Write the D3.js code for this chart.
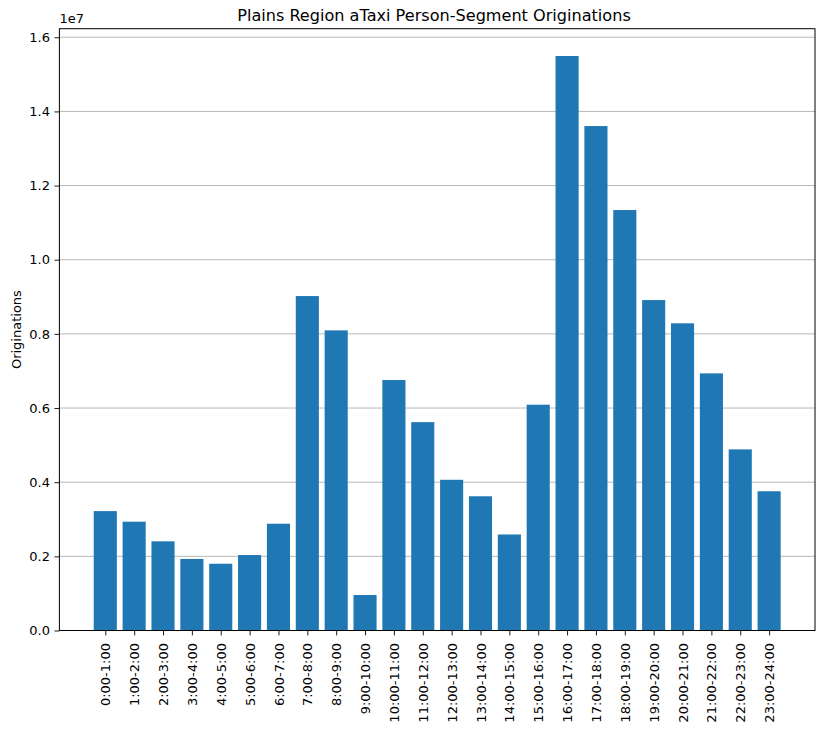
<!DOCTYPE html>
<html>
<head>
<meta charset="utf-8">
<script src="https://cdn.jsdelivr.net/npm/d3@7"></script>
<style>
  html, body { margin: 0; padding: 0; background: #fff; }
  svg { display: block; font-family: "DejaVu Sans", sans-serif; }
</style>
</head>
<body>
<svg id="chart" width="816" height="729"></svg>
<script>
// Hourly time slots
const hours = [
  "0:00-1:00", "1:00-2:00", "2:00-3:00", "3:00-4:00", "4:00-5:00", "5:00-6:00",
  "6:00-7:00", "7:00-8:00", "8:00-9:00", "9:00-10:00", "10:00-11:00", "11:00-12:00",
  "12:00-13:00", "13:00-14:00", "14:00-15:00", "15:00-16:00", "16:00-17:00", "17:00-18:00",
  "18:00-19:00", "19:00-20:00", "20:00-21:00", "21:00-22:00", "22:00-23:00", "23:00-24:00"
];

// Person-segment originations per hour
const originations = [
  3220000, 2935000, 2405000, 1930000, 1800000, 2035000,
  2880000, 9020000, 8095000, 957000, 6755000, 5620000,
  4065000, 3620000, 2590000, 6090000, 15495000, 13605000,
  11340000, 8912000, 8285000, 6935000, 4885000, 3755000
];

// Y tick values (in units of 1e7)
const yTicks = [0.0, 0.2, 0.4, 0.6, 0.8, 1.0, 1.2, 1.4, 1.6];

const svg = d3.select("#chart");
const plotLeft = 59.4, plotRight = 815, plotTop = 28.7, plotBottom = 630.5;

// Linear x scale over bar positions with 5% padding on each side
const n = hours.length;
const barW = 0.8;
const lo = -barW / 2, hi = (n - 1) + barW / 2;
const pad = (hi - lo) * 0.05;
const x = d3.scaleLinear().domain([lo - pad, hi + pad]).range([plotLeft, plotRight]);

const y = d3.scaleLinear().domain([0, 1.6231e7]).range([plotBottom, plotTop]);

// Horizontal grid
svg.append("g")
  .selectAll("line")
  .data(yTicks)
  .join("line")
  .attr("x1", plotLeft).attr("x2", plotRight)
  .attr("y1", d => y(d * 1e7)).attr("y2", d => y(d * 1e7))
  .attr("stroke", "#b0b0b0")
  .attr("stroke-width", 0.9);

// Bars
svg.append("g")
  .selectAll("rect")
  .data(originations)
  .join("rect")
  .attr("x", (d, i) => x(i - barW / 2))
  .attr("width", (d, i) => x(i + barW / 2) - x(i - barW / 2))
  .attr("y", d => y(d))
  .attr("height", d => plotBottom - y(d))
  .attr("fill", "#1f77b4");

// Y axis
const yAxis = d3.axisLeft(y)
  .tickValues(yTicks.map(t => t * 1e7))
  .tickFormat(d => (d / 1e7).toFixed(1))
  .tickSizeOuter(0)
  .tickSize(4.9)
  .tickPadding(4.5);
const gy = svg.append("g").attr("transform", `translate(${plotLeft},0)`).call(yAxis);
gy.select(".domain").remove();
gy.selectAll("line").attr("stroke", "#000").attr("stroke-width", 0.9);
gy.selectAll("text").attr("font-size", "13px").attr("fill", "#000")
  .attr("font-family", "DejaVu Sans, sans-serif");

// X axis with rotated labels
const xAxis = d3.axisBottom(x)
  .tickValues(d3.range(n))
  .tickFormat(i => hours[i])
  .tickSizeOuter(0)
  .tickSize(4.9);
const gx = svg.append("g").attr("transform", `translate(0,${plotBottom})`).call(xAxis);
gx.select(".domain").remove();
gx.selectAll("line").attr("stroke", "#000").attr("stroke-width", 0.9);
gx.selectAll("text")
  .attr("font-size", "13px").attr("fill", "#000")
  .attr("font-family", "DejaVu Sans, sans-serif")
  .attr("transform", "rotate(-90)")
  .attr("text-anchor", "end")
  .attr("x", -12.5)
  .attr("y", 0)
  .attr("dy", "0.35em");

// Frame
svg.append("rect")
  .attr("x", plotLeft).attr("y", plotTop)
  .attr("width", plotRight - plotLeft).attr("height", plotBottom - plotTop)
  .attr("fill", "none")
  .attr("stroke", "#000")
  .attr("stroke-width", 1);

// Offset label
svg.append("text")
  .attr("x", plotLeft).attr("y", 23)
  .attr("font-size", "13px")
  .text("1e7");

// Title
svg.append("text")
  .attr("x", 434).attr("y", 20.5)
  .attr("text-anchor", "middle")
  .attr("font-size", "16.1px")
  .text("Plains Region aTaxi Person-Segment Originations");

// Y label
svg.append("text")
  .attr("transform", `translate(21,${(plotTop + plotBottom) / 2}) rotate(-90)`)
  .attr("text-anchor", "middle")
  .attr("font-size", "13px")
  .text("Originations");
</script>
</body>
</html>
